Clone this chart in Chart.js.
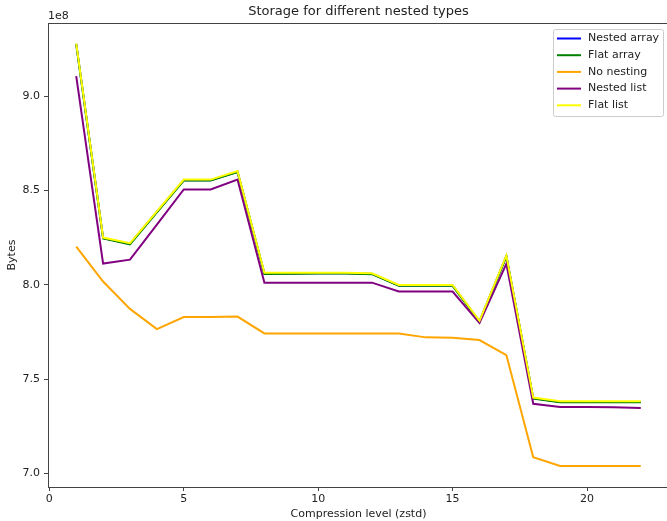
<!DOCTYPE html>
<html>
<head>
<meta charset="utf-8">
<script src="https://cdn.jsdelivr.net/npm/chart.js@4/dist/chart.umd.min.js"></script>
<style>
  html, body { margin: 0; padding: 0; overflow: hidden; background: #fff; }
  #wrap { width: 671px; height: 521px; }
</style>
</head>
<body>
<div id="wrap"><canvas id="chart" width="671" height="521"></canvas></div>
<script>
'use strict';

// compression levels (zstd) and storage in units of 1e8 bytes
const levels = [1, 2, 3, 4, 5, 6, 7, 8, 9, 10, 11, 12, 13, 14, 15, 16, 17, 18, 19, 20, 21, 22];

const nestedArray = [9.277, 8.248, 8.218, 8.387, 8.555, 8.555, 8.600, 8.061, 8.061, 8.062, 8.062, 8.059,
  7.997, 7.997, 7.997, 7.807, 8.153, 7.400, 7.380, 7.380, 7.380, 7.380];
const flatArray = [9.275, 8.246, 8.215, 8.385, 8.553, 8.553, 8.598, 8.058, 8.059, 8.060, 8.060, 8.057,
  7.995, 7.995, 7.995, 7.805, 8.150, 7.397, 7.378, 7.378, 7.378, 7.378];
const noNesting = [8.203, 8.018, 7.873, 7.766, 7.830, 7.830, 7.832, 7.743, 7.743, 7.743, 7.743, 7.743,
  7.743, 7.722, 7.720, 7.708, 7.628, 7.087, 7.040, 7.040, 7.040, 7.040];
const nestedList = [9.106, 8.113, 8.134, 8.320, 8.506, 8.506, 8.558, 8.011, 8.012, 8.012, 8.012, 8.012,
  7.965, 7.965, 7.965, 7.798, 8.112, 7.370, 7.353, 7.353, 7.352, 7.348];
const flatList = [9.280, 8.251, 8.221, 8.390, 8.558, 8.558, 8.603, 8.064, 8.064, 8.065, 8.065, 8.062,
  8.000, 8.000, 8.000, 7.810, 8.156, 7.403, 7.383, 7.383, 7.383, 7.383];

const seriesNames = ['Nested array', 'Flat array', 'No nesting', 'Nested list', 'Flat list'];
const seriesValues = [nestedArray, flatArray, noNesting, nestedList, flatList];
const seriesColors = ['#0000ff', '#008000', '#ffa500', '#800080', '#ffff00'];

const xTicks = [0, 5, 10, 15, 20];
const yTicks = [7.0, 7.5, 8.0, 8.5, 9.0];

const FONT = 'DejaVu Sans';
const TEXT = '#222';
const AXIS = '#444';

// matplotlib-like frame, offset text and legend
const frameLegend = {
  id: 'frameLegend',
  afterDraw(chart) {
    const ctx = chart.ctx;
    const a = chart.chartArea;
    ctx.save();
    ctx.strokeStyle = AXIS;
    ctx.lineWidth = 1;
    ctx.strokeRect(a.left + 0.5, a.top + 0.5, a.right - a.left - 1, a.bottom - a.top);

    ctx.fillStyle = TEXT;
    ctx.font = `11px "${FONT}"`;
    ctx.textBaseline = 'middle';
    ctx.textAlign = 'left';
    ctx.fillText('1e8', a.left, 16);

    // legend box
    const bx = 553, by = 29, bw = 110, bh = 87;
    ctx.beginPath();
    ctx.roundRect(bx + 0.5, by + 0.5, bw, bh, 2);
    ctx.fillStyle = 'rgba(255,255,255,0.8)';
    ctx.fill();
    ctx.strokeStyle = '#cccccc';
    ctx.stroke();

    chart.data.datasets.forEach((ds, i) => {
      const y = 38.5 + i * 16.7;
      ctx.strokeStyle = ds.borderColor;
      ctx.lineWidth = 2;
      ctx.beginPath();
      ctx.moveTo(557, y);
      ctx.lineTo(581, y);
      ctx.stroke();
      ctx.fillStyle = TEXT;
      ctx.fillText(ds.label, 588, y);
    });
    ctx.restore();
  },
};

new Chart(document.getElementById('chart'), {
  type: 'line',
  data: {
    datasets: seriesNames.map((name, i) => ({
      label: name,
      data: levels.map((lv, j) => ({ x: lv, y: seriesValues[i][j] })),
      borderColor: seriesColors[i],
      backgroundColor: seriesColors[i],
      borderWidth: 2,
      pointRadius: 0,
      tension: 0,
      fill: false,
      order: seriesNames.length - i,
    })),
  },
  options: {
    responsive: false,
    animation: false,
    events: [],
    layout: { padding: { top: 0, right: 2, left: 0, bottom: 0 } },
    plugins: {
      legend: { display: false },
      tooltip: { enabled: false },
      title: {
        display: true,
        text: 'Storage for different nested types',
        fullSize: false,
        color: TEXT,
        font: { family: FONT, size: 13, weight: 'normal', lineHeight: 1.2 },
        padding: { top: 4, bottom: 3.4 },
      },
    },
    scales: {
      x: {
        type: 'linear',
        min: -0.05,
        max: 23.05,
        afterBuildTicks: (s) => { s.ticks = xTicks.map(v => ({ value: v })); },
        afterFit: (s) => { s.height = 34; },
        ticks: {
          color: TEXT,
          padding: 2,
          maxRotation: 0,
          font: { family: FONT, size: 11 },
        },
        grid: { drawOnChartArea: false, drawTicks: true, tickLength: 4, tickColor: AXIS },
        border: { display: true, color: AXIS, width: 1 },
        title: {
          display: true,
          text: 'Compression level (zstd)',
          color: TEXT,
          font: { family: FONT, size: 11, lineHeight: 1.2 },
          padding: { top: 0, bottom: 0 },
        },
      },
      y: {
        type: 'linear',
        min: 6.929,
        max: 9.388,
        afterBuildTicks: (s) => { s.ticks = yTicks.map(v => ({ value: v })); },
        afterFit: (s) => { s.width = 48; },
        ticks: {
          color: TEXT,
          padding: 4,
          font: { family: FONT, size: 11 },
          callback: (v) => Number(v).toFixed(1),
        },
        grid: { drawOnChartArea: false, drawTicks: true, tickLength: 4, tickColor: AXIS },
        border: { display: true, color: AXIS, width: 1 },
        title: {
          display: true,
          text: 'Bytes',
          color: TEXT,
          font: { family: FONT, size: 11, lineHeight: 1.2 },
          padding: { top: 5.4, bottom: 0 },
        },
      },
    },
  },
  plugins: [frameLegend],
});
</script>
</body>
</html>
